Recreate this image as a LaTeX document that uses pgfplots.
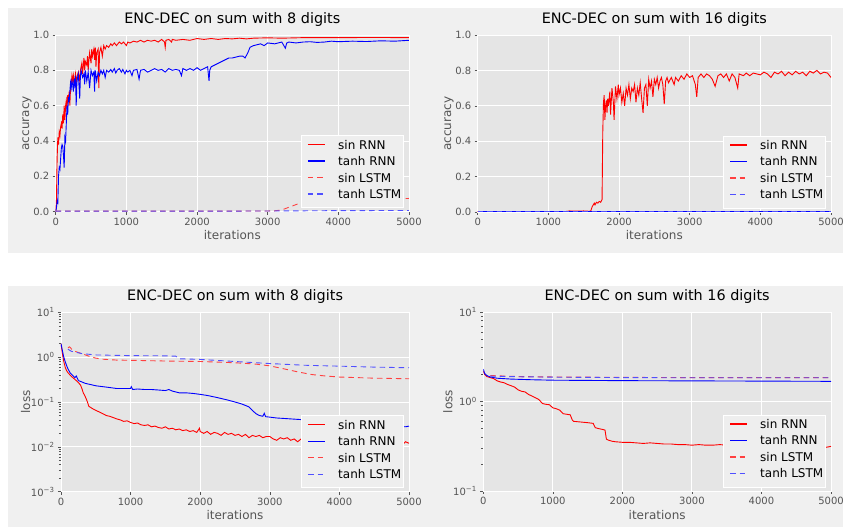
\documentclass[border=0pt]{standalone}
\usepackage{pgfplots}
\pgfplotsset{compat=1.18}
\usepackage{fontspec}
\setmainfont{DejaVu Sans}
\definecolor{figbg}{HTML}{F0F0F0}
\definecolor{axbg}{HTML}{E5E5E5}
\definecolor{legbg}{HTML}{EEEEEE}
\definecolor{tickc}{HTML}{555555}
\definecolor{lred}{HTML}{FF4040}
\definecolor{lblue}{HTML}{5050FF}
\tikzset{
  sr/.style={color=red, line width=0.9pt},
  tr/.style={color=blue, line width=0.9pt},
  sl/.style={color=lred, line width=0.9pt, dash pattern=on 5.5pt off 4pt},
  tl/.style={color=lblue, line width=0.9pt, dash pattern=on 5.5pt off 4pt},
  lsr/.style={draw=red, line width=1.4pt},
  ltr/.style={draw=blue, line width=1.4pt},
  lsl/.style={draw=lred, line width=1.4pt, dash pattern=on 5.5pt off 4pt},
  ltl/.style={draw=lblue, line width=1.4pt, dash pattern=on 5.5pt off 4pt},
  legtxt/.style={anchor=west, inner sep=0pt, font=\fontsize{12}{14}\selectfont},
}
\newcommand{\lgline}[2]{%
  \path[#1] ([xshift=-101pt,yshift=#2]rel axis cs:1,0) -- ([xshift=-84pt,yshift=#2]rel axis cs:1,0);}
\newcommand{\lgtext}[2]{%
  \node[legtxt] at ([xshift=-71pt,yshift=#1]rel axis cs:1,0) {#2};}
\newcommand{\gglegend}{%
  \path[draw=white, line width=0.8pt, fill=legbg] ([xshift=-108pt,yshift=4pt]rel axis cs:1,0) rectangle ([xshift=-6pt,yshift=76pt]rel axis cs:1,0);
  \lgline{lsr}{67pt}\lgline{ltr}{50.5pt}\lgline{lsl}{34pt}\lgline{ltl}{17.5pt}
  \lgtext{67pt}{sin RNN}\lgtext{50.5pt}{tanh RNN}\lgtext{34pt}{sin LSTM}\lgtext{17.5pt}{tanh LSTM}}
\pgfplotsset{
  gg/.style={
    scale only axis, anchor=south west,
    axis background/.style={fill=axbg},
    axis line style={draw=white, line width=0.8pt},
    grid=major, major grid style={white, line width=0.9pt},
    tick align=outside, xtick pos=bottom, ytick pos=left,
    major tick length=3pt, minor tick length=2pt,
    tick style={color=tickc, line width=0.5pt},
    ticklabel style={font=\fontsize{10}{12}\selectfont, text=tickc},
    label style={font=\fontsize{12}{14}\selectfont, text=tickc},
    title style={font=\fontsize{14.4}{17}\selectfont, at={(0.5,1)}, anchor=base, yshift=5.7pt},
    xmin=0, xmax=5000, xtick={0,1000,2000,3000,4000,5000},
    xlabel={iterations},
    xlabel style={at={(axis description cs:0.5,0)}, anchor=base, yshift=-28pt},
    scaled x ticks=false,
    /pgf/number format/assume math mode=true,
    /pgf/number format/1000 sep={},
  },
  acc/.style={gg, ymin=0, ymax=1, ytick={0,0.2,0.4,0.6,0.8,1},
    yticklabels={0.0,0.2,0.4,0.6,0.8,1.0}, ylabel={accuracy},
    ylabel style={at={(axis description cs:-0.0755,0.5)}, anchor=base}},
  lss/.style={gg, ylabel={loss},
    ylabel style={at={(axis description cs:-0.089,0.5)}, anchor=base}},
}
\begin{document}
\begin{tikzpicture}[x=1pt,y=1pt]
\path[use as bounding box, fill=white] (0,0) rectangle (843,527);
\fill[figbg] (8,274) rectangle (843,519);
\fill[figbg] (8,0) rectangle (843,241);

% ---------- top left ----------
\begin{axis}[acc, at={(55.7pt,315.3pt)}, width=353.3pt, height=176.7pt,
  title={ENC-DEC on sum with 8 digits}]
\addplot[sr] coordinates {(0,0) (10,0.05) (20,0.3) (30,0.42) (40,0.38) (50,0.45) (60,0.43) (70,0.48) (80,0.5) (90,0.47) (100,0.55) (110,0.5) (120,0.6) (130,0.52) (140,0.6) (150,0.63) (160,0.58) (170,0.66) (180,0.62) (190,0.68) (200,0.6) (210,0.7) (220,0.72) (230,0.77) (240,0.74) (250,0.77) (260,0.72) (270,0.75) (280,0.78) (290,0.73) (300,0.76) (320,0.79) (340,0.74) (350,0.8) (370,0.84) (380,0.78) (400,0.87) (410,0.8) (420,0.85) (440,0.83) (450,0.88) (460,0.8) (470,0.86) (480,0.9) (500,0.84) (510,0.92) (520,0.88) (540,0.92) (550,0.86) (560,0.93) (570,0.82) (580,0.9) (600,0.92) (610,0.7) (620,0.9) (640,0.93) (660,0.88) (680,0.94) (700,0.92) (720,0.94) (750,0.93) (780,0.95) (800,0.94) (830,0.955) (860,0.94) (900,0.96) (930,0.95) (960,0.96) (1000,0.94) (1020,0.96) (1050,0.955) (1100,0.965) (1150,0.96) (1200,0.97) (1250,0.96) (1300,0.97) (1350,0.965) (1400,0.97) (1450,0.96) (1500,0.975) (1540,0.96) (1550,0.93) (1560,0.97) (1600,0.975) (1640,0.96) (1650,0.975) (1700,0.97) (1800,0.975) (1900,0.97) (2000,0.98) (2100,0.975) (2200,0.98) (2300,0.975) (2400,0.98) (2500,0.978) (2600,0.982) (2700,0.978) (2800,0.982) (3000,0.984) (3200,0.982) (3500,0.985) (4000,0.985) (4500,0.986) (5000,0.985)};
\addplot[tr] coordinates {(0,0) (10,0.02) (20,0.06) (30,0.05) (40,0.2) (50,0.25) (60,0.24) (70,0.3) (80,0.36) (90,0.38) (100,0.37) (110,0.32) (120,0.25) (130,0.42) (140,0.4) (150,0.5) (160,0.6) (170,0.55) (180,0.65) (190,0.62) (200,0.68) (210,0.73) (220,0.7) (230,0.74) (240,0.72) (250,0.68) (260,0.75) (270,0.72) (280,0.77) (290,0.6) (300,0.73) (310,0.76) (320,0.78) (340,0.64) (350,0.77) (360,0.8) (380,0.76) (400,0.78) (410,0.72) (420,0.8) (440,0.74) (460,0.79) (480,0.7) (500,0.8) (520,0.77) (540,0.79) (550,0.68) (560,0.8) (580,0.74) (600,0.79) (620,0.77) (640,0.8) (660,0.78) (680,0.8) (700,0.76) (720,0.8) (750,0.79) (780,0.805) (800,0.79) (830,0.81) (850,0.785) (870,0.8) (900,0.81) (930,0.79) (950,0.805) (980,0.78) (1000,0.8) (1020,0.79) (1050,0.8) (1080,0.77) (1100,0.8) (1150,0.805) (1180,0.75) (1200,0.8) (1250,0.805) (1300,0.79) (1350,0.8) (1400,0.81) (1450,0.8) (1500,0.805) (1550,0.79) (1600,0.81) (1650,0.8) (1700,0.805) (1750,0.8) (1780,0.77) (1800,0.81) (1850,0.8) (1900,0.81) (1950,0.8) (2000,0.815) (2050,0.8) (2100,0.81) (2150,0.82) (2170,0.74) (2180,0.8) (2200,0.82) (2250,0.83) (2300,0.84) (2350,0.85) (2400,0.86) (2450,0.87) (2500,0.87) (2550,0.875) (2600,0.88) (2650,0.88) (2680,0.87) (2720,0.9) (2750,0.93) (2800,0.94) (2850,0.945) (2900,0.95) (2950,0.94) (3000,0.955) (3100,0.95) (3200,0.96) (3250,0.925) (3270,0.955) (3300,0.96) (3400,0.955) (3500,0.96) (3600,0.962) (3700,0.958) (3800,0.96) (3900,0.965) (4000,0.962) (4200,0.965) (4400,0.963) (4600,0.967) (4800,0.965) (5000,0.97)};
\addplot[sl] coordinates {(0,0.003) (1000,0.003) (2000,0.003) (3000,0.004) (3100,0.005) (3200,0.01) (3300,0.025) (3400,0.04) (3500,0.055) (4000,0.065) (4500,0.07) (5000,0.075)};
\addplot[tl] coordinates {(0,0.003) (1000,0.003) (2000,0.003) (3000,0.004) (4000,0.006) (5000,0.007)};
\gglegend
\end{axis}

% ---------- top right ----------
\begin{axis}[acc, at={(477.7pt,315pt)}, width=353.3pt, height=177pt,
  title={ENC-DEC on sum with 16 digits}]
\addplot[sr] coordinates {(0,0.003) (1250,0.003) (1300,0.006) (1400,0.005) (1500,0.006) (1580,0.004) (1600,0.006) (1620,0.03) (1650,0.05) (1660,0.04) (1680,0.055) (1700,0.05) (1720,0.06) (1740,0.055) (1760,0.07) (1770,0.45) (1780,0.62) (1790,0.66) (1800,0.52) (1810,0.6) (1820,0.63) (1830,0.56) (1840,0.64) (1850,0.6) (1870,0.68) (1880,0.55) (1900,0.7) (1920,0.62) (1930,0.52) (1950,0.71) (1970,0.64) (1990,0.72) (2000,0.66) (2020,0.7) (2040,0.62) (2060,0.67) (2080,0.6) (2100,0.7) (2120,0.66) (2140,0.72) (2160,0.64) (2180,0.7) (2200,0.68) (2220,0.72) (2240,0.62) (2260,0.7) (2280,0.66) (2300,0.73) (2320,0.64) (2340,0.56) (2360,0.7) (2380,0.72) (2400,0.6) (2420,0.75) (2440,0.7) (2460,0.74) (2480,0.65) (2500,0.75) (2520,0.72) (2540,0.76) (2560,0.7) (2580,0.74) (2600,0.76) (2620,0.72) (2640,0.61) (2660,0.74) (2680,0.76) (2700,0.73) (2740,0.76) (2780,0.72) (2800,0.76) (2840,0.74) (2880,0.77) (2920,0.75) (2960,0.78) (3000,0.76) (3040,0.77) (3080,0.72) (3100,0.65) (3120,0.76) (3160,0.78) (3200,0.76) (3240,0.78) (3280,0.77) (3320,0.75) (3360,0.71) (3400,0.77) (3440,0.78) (3480,0.76) (3520,0.78) (3560,0.74) (3600,0.78) (3640,0.76) (3680,0.7) (3700,0.78) (3760,0.77) (3800,0.785) (3850,0.77) (3900,0.785) (3950,0.78) (4000,0.775) (4050,0.79) (4100,0.78) (4150,0.76) (4200,0.79) (4250,0.78) (4300,0.795) (4350,0.77) (4400,0.79) (4450,0.775) (4500,0.795) (4550,0.78) (4600,0.79) (4650,0.77) (4700,0.795) (4750,0.785) (4800,0.8) (4850,0.78) (4900,0.79) (4950,0.785) (5000,0.76)};
\addplot[tr] coordinates {(0,0.003) (5000,0.003)};
\addplot[sl] coordinates {(0,0.003) (5000,0.003)};
\addplot[tl] coordinates {(0,0.003) (5000,0.003)};
\gglegend
\end{axis}

% ---------- bottom left ----------
\begin{axis}[ymode=log, lss, at={(61pt,35.3pt)}, width=348pt, height=179.4pt,
  ymin=1e-3, ymax=10, ytick={1e-3,1e-2,1e-1,1,10},
  yticklabels={10\textsuperscript{−3},10\textsuperscript{−2},10\textsuperscript{−1},10\textsuperscript{0},10\textsuperscript{1}},
  title={ENC-DEC on sum with 8 digits}]
\addplot[sr] coordinates {(0,2.0) (20,1.2) (40,0.8) (60,0.6) (80,0.5) (100,0.45) (130,0.4) (160,0.36) (200,0.32) (240,0.28) (280,0.24) (300,0.2) (320,0.16) (340,0.14) (360,0.12) (380,0.1) (400,0.08) (430,0.075) (460,0.07) (500,0.065) (550,0.06) (600,0.055) (650,0.05) (700,0.048) (750,0.045) (800,0.042) (850,0.04) (900,0.037) (950,0.038) (1000,0.035) (1050,0.033) (1100,0.034) (1150,0.031) (1200,0.03) (1250,0.031) (1300,0.028) (1350,0.029) (1400,0.027) (1450,0.026) (1500,0.028) (1550,0.025) (1600,0.026) (1650,0.024) (1700,0.025) (1750,0.023) (1800,0.024) (1850,0.022) (1900,0.023) (1950,0.021) (1990,0.026) (2000,0.022) (2050,0.02) (2100,0.022) (2150,0.019) (2200,0.021) (2250,0.02) (2300,0.018) (2350,0.021) (2400,0.019) (2450,0.02) (2500,0.018) (2550,0.019) (2600,0.017) (2650,0.019) (2700,0.016) (2750,0.018) (2800,0.017) (2850,0.018) (2900,0.016) (2950,0.017) (3000,0.017) (3050,0.015) (3100,0.014) (3150,0.016) (3200,0.015) (3250,0.016) (3300,0.014) (3350,0.015) (3400,0.013) (3450,0.015) (3500,0.014) (4000,0.013) (4500,0.012) (4900,0.011) (4950,0.013) (5000,0.012)};
\addplot[tr] coordinates {(0,2.0) (20,1.4) (40,1.0) (60,0.8) (80,0.65) (100,0.55) (130,0.45) (160,0.4) (200,0.35) (220,0.38) (250,0.3) (300,0.28) (350,0.26) (400,0.25) (450,0.24) (500,0.23) (600,0.22) (700,0.21) (800,0.2) (900,0.2) (1000,0.2) (1010,0.22) (1030,0.19) (1100,0.195) (1200,0.19) (1300,0.19) (1400,0.185) (1500,0.18) (1550,0.19) (1600,0.175) (1700,0.16) (1800,0.16) (1900,0.155) (2000,0.148) (2100,0.14) (2200,0.13) (2300,0.12) (2400,0.11) (2500,0.1) (2600,0.09) (2700,0.078) (2750,0.065) (2800,0.055) (2850,0.05) (2900,0.048) (2920,0.056) (2940,0.047) (3000,0.046) (3100,0.044) (3200,0.043) (3300,0.042) (3400,0.041) (3500,0.04) (4000,0.035) (4500,0.031) (4950,0.028) (5000,0.029)};
\addplot[sl] coordinates {(100,1.6) (120,1.7) (140,1.6) (160,1.45) (200,1.35) (300,1.2) (400,1.05) (500,0.95) (600,0.9) (800,0.86) (1000,0.85) (1500,0.82) (2000,0.8) (2500,0.75) (2800,0.7) (3000,0.64) (3200,0.55) (3400,0.47) (3600,0.41) (3800,0.38) (4000,0.36) (4500,0.34) (5000,0.33)};
\addplot[tl] coordinates {(100,1.5) (150,1.35) (200,1.3) (300,1.2) (500,1.12) (1000,1.08) (1500,1.07) (1650,1.05) (1700,0.92) (2000,0.89) (2500,0.8) (3000,0.72) (3500,0.66) (4000,0.63) (4500,0.6) (5000,0.58)};
\gglegend
\end{axis}

% ---------- bottom right ----------
\begin{axis}[ymode=log, lss, at={(483.3pt,36pt)}, width=347.7pt, height=179pt,
  ymin=0.1, ymax=10, ytick={0.1,1,10},
  yticklabels={10\textsuperscript{−1},10\textsuperscript{0},10\textsuperscript{1}},
  title={ENC-DEC on sum with 16 digits}]
\addplot[sr] coordinates {(0,2.2) (20,2.0) (50,1.9) (100,1.85) (150,1.8) (200,1.7) (250,1.65) (300,1.62) (350,1.55) (400,1.5) (450,1.45) (500,1.35) (550,1.3) (600,1.28) (650,1.2) (700,1.15) (750,1.1) (800,1.05) (850,0.95) (900,0.93) (950,0.92) (1000,0.85) (1050,0.83) (1100,0.8) (1150,0.73) (1200,0.72) (1250,0.71) (1280,0.62) (1300,0.6) (1400,0.59) (1500,0.58) (1580,0.57) (1610,0.51) (1650,0.5) (1700,0.49) (1750,0.48) (1770,0.38) (1800,0.37) (1850,0.36) (1900,0.355) (2000,0.35) (2100,0.35) (2200,0.345) (2300,0.34) (2400,0.345) (2500,0.34) (2600,0.335) (2700,0.335) (2800,0.33) (2900,0.33) (3000,0.325) (3100,0.33) (3200,0.325) (3300,0.325) (3400,0.33) (3500,0.325) (4000,0.32) (4500,0.31) (4900,0.305) (5000,0.315)};
\addplot[tr] coordinates {(0,2.3) (20,2.05) (50,1.95) (100,1.88) (200,1.82) (400,1.78) (700,1.75) (1000,1.73) (1500,1.72) (2000,1.71) (3000,1.7) (4000,1.69) (5000,1.68)};
\addplot[sl] coordinates {(100,1.95) (500,1.9) (1000,1.88) (2000,1.86) (3000,1.85) (5000,1.85)};
\addplot[tl] coordinates {(100,1.92) (500,1.89) (1000,1.87) (2000,1.85) (3000,1.84) (5000,1.84)};
\gglegend
\end{axis}
\end{tikzpicture}
\end{document}
